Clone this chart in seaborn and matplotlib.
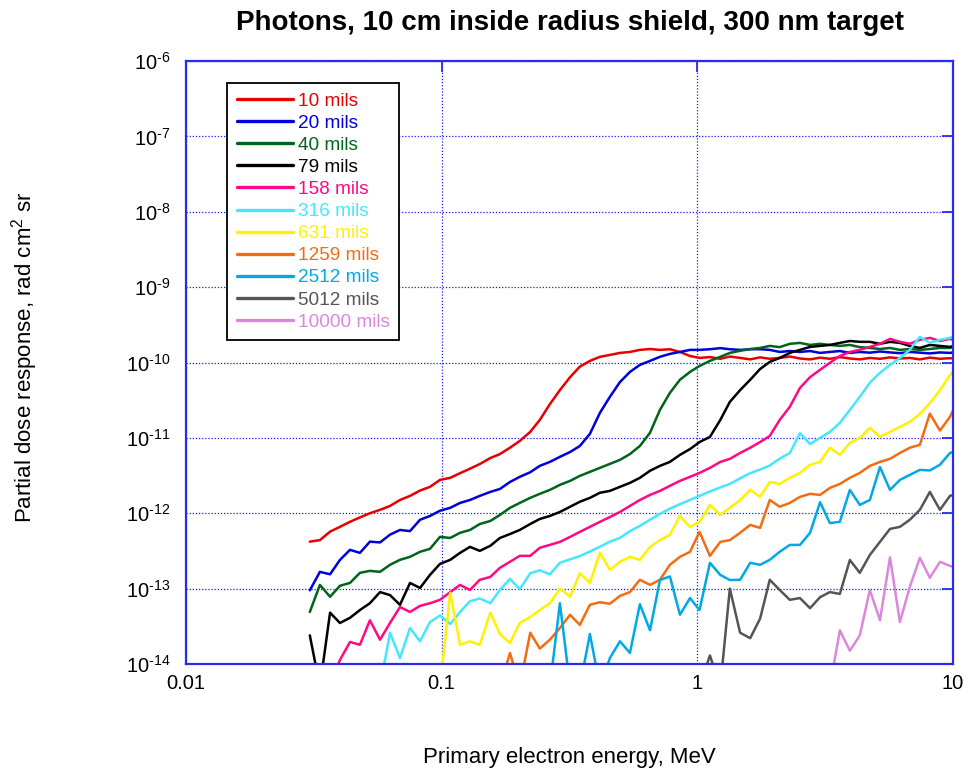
import numpy as np
import pandas as pd
import matplotlib
matplotlib.use("Agg")
import matplotlib.pyplot as plt
import seaborn as sns
from matplotlib.ticker import FixedLocator, FixedFormatter, NullLocator

nan = np.nan
LOW = 5e-15  # response below the plotted floor of 1e-14

# Primary electron energy grid, MeV
energy_mev = [
    0.0305, 0.0334, 0.0366, 0.0400, 0.0438, 0.0479, 0.0524, 0.0574, 0.0628, 0.0687,
    0.0752, 0.0823, 0.0900, 0.0985, 0.108, 0.118, 0.129, 0.141, 0.155, 0.169,
    0.185, 0.202, 0.222, 0.242, 0.265, 0.290, 0.318, 0.347, 0.380, 0.416,
    0.455, 0.498, 0.545, 0.596, 0.653, 0.714, 0.781, 0.855, 0.936, 1.02,
    1.12, 1.23, 1.34, 1.47, 1.61, 1.76, 1.92, 2.10, 2.30, 2.52,
    2.76, 3.02, 3.30, 3.61, 3.95, 4.32, 4.73, 5.18, 5.67, 6.20,
    6.78, 7.42, 8.12, 8.89, 9.73, 10.0,
]

# Partial dose response (rad cm^2 sr) for each shield thickness
dose_10 = [
    4.2e-13, 4.4e-13, 5.7e-13, 6.6e-13, 7.7e-13, 8.8e-13, 1.0e-12, 1.11e-12, 1.25e-12, 1.5e-12,
    1.7e-12, 2.0e-12, 2.24e-12, 2.77e-12, 2.95e-12, 3.4e-12, 3.9e-12, 4.5e-12, 5.4e-12, 6.1e-12,
    7.4e-12, 9.1e-12, 1.2e-11, 1.73e-11, 2.8e-11, 4.3e-11, 6.4e-11, 8.8e-11, 1.05e-10, 1.19e-10,
    1.26e-10, 1.34e-10, 1.38e-10, 1.47e-10, 1.51e-10, 1.47e-10, 1.5e-10, 1.38e-10, 1.22e-10, 1.15e-10,
    1.18e-10, 1.12e-10, 1.2e-10, 1.15e-10, 1.1e-10, 1.17e-10, 1.12e-10, 1.15e-10, 1.2e-10, 1.13e-10,
    1.1e-10, 1.16e-10, 1.12e-10, 1.18e-10, 1.13e-10, 1.1e-10, 1.15e-10, 1.12e-10, 1.17e-10, 1.13e-10,
    1.15e-10, 1.1e-10, 1.16e-10, 1.12e-10, 1.14e-10, 1.13e-10,
]
dose_20 = [
    9.5e-14, 1.67e-13, 1.55e-13, 2.4e-13, 3.27e-13, 2.98e-13, 4.2e-13, 4.1e-13, 5.2e-13, 6.0e-13,
    5.8e-13, 8.2e-13, 9.2e-13, 1.08e-12, 1.18e-12, 1.37e-12, 1.5e-12, 1.7e-12, 1.92e-12, 2.1e-12,
    2.6e-12, 3.04e-12, 3.5e-12, 4.25e-12, 4.8e-12, 5.6e-12, 6.5e-12, 7.8e-12, 1.13e-11, 2.15e-11,
    3.5e-11, 5.5e-11, 7.5e-11, 9.3e-11, 1.05e-10, 1.19e-10, 1.3e-10, 1.38e-10, 1.47e-10, 1.47e-10,
    1.5e-10, 1.55e-10, 1.5e-10, 1.47e-10, 1.5e-10, 1.5e-10, 1.47e-10, 1.38e-10, 1.42e-10, 1.38e-10,
    1.42e-10, 1.34e-10, 1.38e-10, 1.42e-10, 1.34e-10, 1.38e-10, 1.35e-10, 1.4e-10, 1.36e-10, 1.33e-10,
    1.38e-10, 1.35e-10, 1.32e-10, 1.36e-10, 1.34e-10, 1.36e-10,
]
dose_40 = [
    4.9e-14, 1.12e-13, 7.8e-14, 1.09e-13, 1.19e-13, 1.62e-13, 1.72e-13, 1.67e-13, 2.07e-13, 2.41e-13,
    2.64e-13, 3.08e-13, 3.37e-13, 4.86e-13, 4.7e-13, 5.5e-13, 6.0e-13, 7.2e-13, 7.9e-13, 9.5e-13,
    1.18e-12, 1.37e-12, 1.6e-12, 1.81e-12, 2.04e-12, 2.38e-12, 2.69e-12, 3.13e-12, 3.54e-12, 4.0e-12,
    4.52e-12, 5.1e-12, 6.1e-12, 7.8e-12, 1.17e-11, 2.35e-11, 3.95e-11, 5.9e-11, 7.5e-11, 9.0e-11,
    1.05e-10, 1.19e-10, 1.34e-10, 1.43e-10, 1.51e-10, 1.56e-10, 1.66e-10, 1.6e-10, 1.77e-10, 1.82e-10,
    1.71e-10, 1.77e-10, 1.71e-10, 1.66e-10, 1.71e-10, 1.6e-10, 1.56e-10, 1.51e-10, 1.56e-10, 1.47e-10,
    1.51e-10, 1.47e-10, 1.51e-10, 1.56e-10, 1.56e-10, 1.6e-10,
]
dose_79 = [
    2.4e-14, LOW, 4.8e-14, 3.5e-14, 4.1e-14, 5.2e-14, 6.4e-14, 9.0e-14, 8.2e-14, 6.1e-14,
    1.19e-13, 1.02e-13, 1.52e-13, 2.13e-13, 2.41e-13, 2.98e-13, 3.58e-13, 3.17e-13, 3.7e-13, 4.7e-13,
    5.3e-13, 6.0e-13, 7.2e-13, 8.4e-13, 9.2e-13, 1.04e-12, 1.22e-12, 1.42e-12, 1.6e-12, 1.87e-12,
    1.98e-12, 2.24e-12, 2.53e-12, 2.95e-12, 3.66e-12, 4.25e-12, 4.8e-12, 5.95e-12, 7.1e-12, 8.8e-12,
    1.03e-11, 1.73e-11, 3.0e-11, 4.3e-11, 5.9e-11, 8.2e-11, 1.02e-10, 1.15e-10, 1.34e-10, 1.47e-10,
    1.61e-10, 1.66e-10, 1.71e-10, 1.82e-10, 1.93e-10, 1.88e-10, 1.88e-10, 1.77e-10, 1.88e-10, 1.82e-10,
    1.66e-10, 1.56e-10, 1.71e-10, 1.66e-10, 1.61e-10, 1.65e-10,
]
dose_158 = [
    nan, LOW, LOW, 1.13e-14, 1.96e-14, 1.8e-14, 3.8e-14, 2.1e-14, 3.5e-14, 5.7e-14,
    4.9e-14, 5.9e-14, 6.4e-14, 7.1e-14, 9.0e-14, 1.12e-13, 9.6e-14, 1.31e-13, 1.43e-13, 1.89e-13,
    2.27e-13, 2.72e-13, 2.72e-13, 3.48e-13, 3.81e-13, 4.17e-13, 4.86e-13, 5.66e-13, 6.6e-13, 7.7e-13,
    8.9e-13, 1.04e-12, 1.25e-12, 1.5e-12, 1.75e-12, 1.98e-12, 2.31e-12, 2.69e-12, 3.04e-12, 3.43e-12,
    4.0e-12, 4.8e-12, 5.27e-12, 6.3e-12, 7.4e-12, 8.8e-12, 1.06e-11, 1.73e-11, 2.58e-11, 4.6e-11,
    6.4e-11, 8.0e-11, 9.9e-11, 1.22e-10, 1.38e-10, 1.47e-10, 1.61e-10, 1.77e-10, 2.06e-10, 1.88e-10,
    1.77e-10, 2.0e-10, 2.12e-10, 1.93e-10, 2.06e-10, 2.0e-10,
]
dose_316 = [
    nan, nan, nan, nan, nan, nan, nan, LOW, 2.6e-14, 1.2e-14,
    3.0e-14, 2.0e-14, 3.6e-14, 4.4e-14, 3.4e-14, 4.9e-14, 6.8e-14, 7.4e-14, 6.4e-14, 9.6e-14,
    1.35e-13, 9.8e-14, 1.6e-13, 1.75e-13, 1.55e-13, 2.2e-13, 2.45e-13, 2.7e-13, 3.1e-13, 3.6e-13,
    4.2e-13, 4.7e-13, 5.8e-13, 6.8e-13, 8.2e-13, 9.8e-13, 1.15e-12, 1.32e-12, 1.5e-12, 1.7e-12,
    1.95e-12, 2.2e-12, 2.45e-12, 2.9e-12, 3.4e-12, 3.8e-12, 4.3e-12, 5.3e-12, 6.3e-12, 1.15e-11,
    8.3e-12, 1.0e-11, 1.2e-11, 1.58e-11, 2.35e-11, 3.5e-11, 5.4e-11, 7.3e-11, 9.3e-11, 1.15e-10,
    1.47e-10, 2.19e-10, 1.82e-10, 2.0e-10, 2.12e-10, 2.2e-10,
]
dose_631 = [
    nan, nan, nan, nan, nan, nan, nan, nan, nan, nan,
    nan, nan, nan, LOW, 8.8e-14, 1.8e-14, 2.0e-14, 1.8e-14, 4.8e-14, 2.5e-14,
    1.9e-14, 3.5e-14, 4.2e-14, 5.2e-14, 6.4e-14, 1.0e-13, 7.8e-14, 1.6e-13, 1.19e-13, 3.0e-13,
    1.78e-13, 2.27e-13, 2.64e-13, 2.41e-13, 3.58e-13, 4.4e-13, 5.17e-13, 9.2e-13, 6.6e-13, 7.7e-13,
    1.29e-12, 9.5e-13, 1.18e-12, 1.5e-12, 2.04e-12, 1.65e-12, 2.6e-12, 2.45e-12, 2.95e-12, 3.43e-12,
    4.4e-12, 4.8e-12, 7.4e-12, 5.95e-12, 8.6e-12, 1.0e-11, 1.36e-11, 1.03e-11, 1.2e-11, 1.4e-11,
    1.63e-11, 2.08e-11, 2.9e-11, 4.3e-11, 6.8e-11, 7.5e-11,
]
dose_1259 = [
    nan, nan, nan, nan, nan, nan, nan, nan, nan, nan,
    nan, nan, nan, nan, nan, nan, nan, nan, nan, LOW,
    1.4e-14, LOW, 2.6e-14, 1.6e-14, 2.1e-14, 3.0e-14, 4.5e-14, 3.3e-14, 6.1e-14, 6.6e-14,
    6.3e-14, 8.0e-14, 9.0e-14, 1.31e-13, 1.12e-13, 1.31e-13, 2.07e-13, 2.64e-13, 3.08e-13, 5.66e-13,
    2.72e-13, 4.17e-13, 4.4e-13, 5.5e-13, 7.0e-13, 6.4e-13, 1.5e-12, 1.22e-12, 1.37e-12, 1.65e-12,
    1.81e-12, 1.75e-12, 2.17e-12, 2.45e-12, 2.95e-12, 3.43e-12, 4.25e-12, 4.8e-12, 5.27e-12, 6.3e-12,
    7.4e-12, 8.1e-12, 2.1e-11, 1.25e-11, 1.9e-11, 2.3e-11,
]
dose_2512 = [
    nan, nan, nan, nan, nan, nan, nan, nan, nan, nan,
    nan, nan, nan, nan, nan, nan, nan, nan, nan, nan,
    nan, nan, nan, nan, LOW, 6.4e-14, LOW, LOW, 2.5e-14, LOW,
    1.2e-14, 2.0e-14, 1.4e-14, 6.2e-14, 2.8e-14, 1.3e-13, 1.45e-13, 4.5e-14, 7.5e-14, 5.2e-14,
    2.2e-13, 1.52e-13, 1.3e-13, 1.31e-13, 2.2e-13, 2.07e-13, 2.41e-13, 3.08e-13, 3.8e-13, 3.8e-13,
    5.5e-13, 1.4e-12, 7.4e-13, 7.7e-13, 2.04e-12, 1.29e-12, 1.5e-12, 4.1e-12, 2.04e-12, 2.77e-12,
    3.23e-12, 3.76e-12, 3.7e-12, 4.4e-12, 6.3e-12, 6.5e-12,
]
dose_5012 = [
    nan, nan, nan, nan, nan, nan, nan, nan, nan, nan,
    nan, nan, nan, nan, nan, nan, nan, nan, nan, nan,
    nan, nan, nan, nan, nan, nan, nan, nan, nan, nan,
    nan, nan, nan, nan, nan, nan, nan, nan, nan, LOW,
    1.3e-14, LOW, 1.0e-13, 2.6e-14, 2.2e-14, 4.0e-14, 1.31e-13, 9.6e-14, 7.1e-14, 7.5e-14,
    5.5e-14, 7.7e-14, 9.0e-14, 8.5e-14, 2.4e-13, 1.62e-13, 2.8e-13, 4.17e-13, 6.2e-13, 6.6e-13,
    8.2e-13, 1.11e-12, 1.92e-12, 1.11e-12, 1.7e-12, 1.75e-12,
]
dose_10000 = [
    nan, nan, nan, nan, nan, nan, nan, nan, nan, nan,
    nan, nan, nan, nan, nan, nan, nan, nan, nan, nan,
    nan, nan, nan, nan, nan, nan, nan, nan, nan, nan,
    nan, nan, nan, nan, nan, nan, nan, nan, nan, nan,
    nan, nan, nan, nan, nan, nan, nan, nan, nan, nan,
    nan, nan, LOW, 2.8e-14, 1.5e-14, 2.4e-14, 9.6e-14, 3.8e-14, 2.6e-13, 3.6e-14,
    1.06e-13, 2.56e-13, 1.39e-13, 2.27e-13, 2.0e-13, 1.95e-13,
]

shield_labels = ["10 mils", "20 mils", "40 mils", "79 mils", "158 mils", "316 mils",
                 "631 mils", "1259 mils", "2512 mils", "5012 mils", "10000 mils"]
shield_colors = ["#e60000", "#0000d8", "#00641a", "#000000", "#ff0a82", "#45e6ff",
                 "#fff200", "#f26d12", "#00a9e6", "#555555", "#dc87dc"]
series = [dose_10, dose_20, dose_40, dose_79, dose_158, dose_316,
          dose_631, dose_1259, dose_2512, dose_5012, dose_10000]

x_ticks = [0.01, 0.1, 1, 10]
x_tick_labels = ["0.01", "0.1", "1", "10"]
y_exponents = [-14, -13, -12, -11, -10, -9, -8, -7, -6]

frames = [pd.DataFrame({"energy": energy_mev, "dose": d, "shield": name})
          for name, d in zip(shield_labels, series)]
df = pd.concat(frames, ignore_index=True).dropna()

sns.set_theme(style="white")
plt.rcParams["font.family"] = ["Liberation Sans", "DejaVu Sans"]
plt.rcParams["axes.unicode_minus"] = False
plt.rcParams["mathtext.fontset"] = "custom"
plt.rcParams["mathtext.rm"] = "Liberation Sans"
plt.rcParams["mathtext.it"] = "Liberation Sans:italic"
plt.rcParams["mathtext.bf"] = "Liberation Sans:bold"
plt.rcParams["text.color"] = "black"
plt.rcParams["axes.labelcolor"] = "black"

frame_blue = "#2a2af0"

fig, ax = plt.subplots(figsize=(9.69, 7.73), dpi=100)
fig.subplots_adjust(left=186 / 969, right=953 / 969, top=1 - 61 / 773, bottom=1 - 664 / 773)

ax.set_xscale("log")
ax.set_yscale("log")
sns.lineplot(data=df, x="energy", y="dose", hue="shield", hue_order=shield_labels,
             palette=dict(zip(shield_labels, shield_colors)), estimator=None,
             linewidth=1.8, ax=ax)
ax.set_xlim(0.01, 10)
ax.set_ylim(1e-14, 1e-6)

ax.xaxis.set_major_locator(FixedLocator(x_ticks))
ax.xaxis.set_major_formatter(FixedFormatter(x_tick_labels))
ax.yaxis.set_major_locator(FixedLocator([10.0 ** e for e in y_exponents]))
ax.yaxis.set_major_formatter(FixedFormatter(
    [r"$\mathregular{10^{\text{%d}}}$" % e for e in y_exponents]))
ax.xaxis.set_minor_locator(NullLocator())
ax.yaxis.set_minor_locator(NullLocator())
ax.tick_params(which="major", direction="in", length=8, width=1.3, color=frame_blue,
               top=True, right=True, labelsize=14.5, labelcolor="black")
ax.tick_params(axis="x", pad=7)
ax.tick_params(axis="y", pad=11)

ax.grid(True, which="major", color="#1a1aff", linestyle=(0, (1, 1.5)), linewidth=0.9)
ax.set_axisbelow(True)
for spine in ax.spines.values():
    spine.set_color(frame_blue)
    spine.set_linewidth(1.6)
    spine.set_visible(True)

ax.set_xlabel("Primary electron energy, MeV", fontsize=16, color="black")
ax.xaxis.set_label_coords(0.5, (664 - 757) / 603)
ax.xaxis.label.set_va("center")
ax.set_ylabel(r"Partial dose response, rad cm$^{2}$ sr", fontsize=16, color="black")
ax.yaxis.set_label_coords((25 - 186) / 767, (664 - 357) / 603)
ax.yaxis.label.set_va("center")

fig.text((186 + 953) / 2 / 969, 1 - 23 / 773,
         "Photons, 10 cm inside radius shield, 300 nm target",
         ha="center", va="center", fontsize=20, fontweight="bold", color="black")

handles, labels = ax.get_legend_handles_labels()
leg = ax.legend(handles, labels, loc="upper left",
                bbox_to_anchor=(41 / 767, 1 - 22 / 603), borderaxespad=0,
                fontsize=13.7, handlelength=2.95, handletextpad=0.26,
                labelspacing=0.25, borderpad=0.5, frameon=True, fancybox=False,
                edgecolor="black", framealpha=1)
leg.get_frame().set_linewidth(1.3)
for txt, col in zip(leg.get_texts(), shield_colors):
    txt.set_color(col)
for line in leg.get_lines():
    line.set_linewidth(2.4)

fig.savefig("out.png", dpi=100)
